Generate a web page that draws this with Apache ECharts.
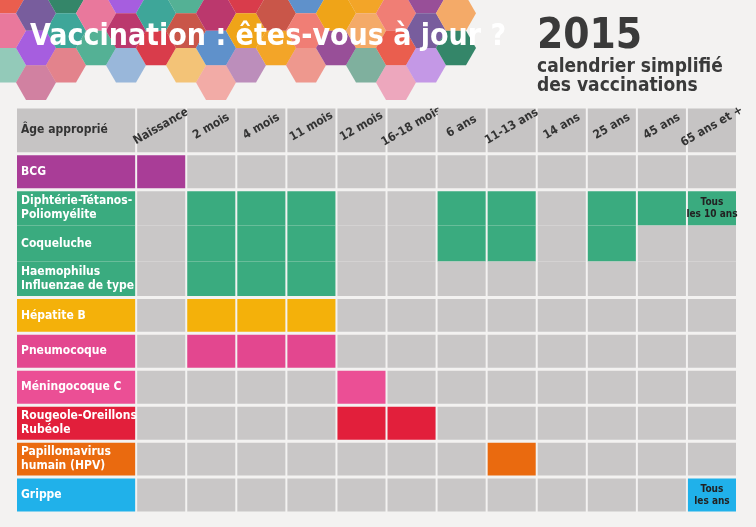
<!DOCTYPE html>
<html>
<head>
<meta charset="utf-8">
<script src="https://cdn.jsdelivr.net/npm/echarts@6/dist/echarts.min.js"></script>
<style>
  html, body { margin: 0; padding: 0; background: #f3f2f1; }
  #chart { width: 756px; height: 527px; }
</style>
</head>
<body>
<div id="chart"></div>
<script>
// colonnes d'âge
var ages = ['Naissance', '2 mois', '4 mois', '11 mois', '12 mois', '16-18 mois', '6 ans', '11-13 ans', '14 ans', '25 ans', '45 ans', '65 ans et +'];
// lignes vaccins
var vaccines = ['BCG', 'Diphtérie-Tétanos-\nPoliomyélite', 'Coqueluche', 'Haemophilus\nInfluenzae de type b (HIB)', 'Hépatite B', 'Pneumocoque', 'Méningocoque C', 'Rougeole-Oreillons-\nRubéole', 'Papillomavirus\nhumain (HPV)', 'Grippe'];
var vaccineColors = ['#a93d97', '#3aab7f', '#3aab7f', '#3aab7f', '#f4b10a', '#e3478f', '#eb4f95', '#e21f3b', '#ea6a0f', '#20b1ea'];
// groupe visuel (lignes sans séparation)
var groups = [0, 1, 1, 1, 2, 3, 4, 5, 6, 7];
// indices des colonnes où le vaccin est recommandé
var schedule = [
  [0],
  [1, 2, 3, 6, 7, 9, 10, 11],
  [1, 2, 3, 6, 7, 9],
  [1, 2, 3],
  [1, 2, 3],
  [1, 2, 3],
  [4],
  [4, 5],
  [7],
  [11]
];
var notes = { '1-11': 'Tous\nles 10 ans', '9-11': 'Tous\nles ans' };

var HEADER_H = 1.3;
var LABEL_W = 2.4;
var GREY = '#c9c7c7';
var FONT = '"Liberation Sans Narrow", "DejaVu Sans Condensed", sans-serif';

// construit les cellules
var cells = [];
cells.push({ col: -1, row: -1, fill: '#c6c4c4', text: 'Âge appropri\u00e9', dark: true });
ages.forEach(function (a, c) {
  cells.push({ col: c, row: -1, fill: '#c6c4c4', text: a, header: true });
});
vaccines.forEach(function (v, r) {
  cells.push({ col: -1, row: r, fill: vaccineColors[r], text: v });
  ages.forEach(function (a, c) {
    var on = schedule[r].indexOf(c) >= 0;
    cells.push({ col: c, row: r, fill: on ? vaccineColors[r] : GREY, text: notes[r + '-' + c] || '', note: true });
  });
});

function renderItem(params, api) {
  var d = cells[params.dataIndex];
  var x0 = d.col < 0 ? -LABEL_W : d.col;
  var x1 = d.col < 0 ? 0 : d.col + 1;
  var y0 = d.row < 0 ? 0 : HEADER_H + d.row;
  var y1 = d.row < 0 ? HEADER_H : y0 + 1;
  var p0 = api.coord([x0, y0]);
  var p1 = api.coord([x1, y1]);
  var topGap = (d.row <= 0 || groups[d.row - 1] !== groups[d.row]) ? 1.5 : 0;
  var botGap = (d.row < 0 || d.row === vaccines.length - 1 || groups[d.row + 1] !== groups[d.row]) ? 1.5 : 0;
  var rx = p0[0] + 1, ry = p0[1] + topGap;
  var rw = p1[0] - p0[0] - 2, rh = p1[1] - p0[1] - topGap - botGap;
  var children = [{
    type: 'rect',
    shape: { x: rx, y: ry, width: rw, height: rh },
    style: { fill: d.fill }
  }];
  if (d.text) {
    if (d.header) {
      children.push({
        type: 'text', x: rx + rw / 2, y: ry + 18, rotation: Math.PI / 6,
        style: { text: d.text, fill: '#333', font: 'bold 12px ' + FONT, align: 'center', verticalAlign: 'middle' }
      });
    } else if (d.col < 0) {
      children.push({
        type: 'text', x: rx + 4, y: ry + rh / 2,
        style: { text: d.text, fill: d.dark ? '#333' : '#fff', font: 'bold 12px ' + FONT, lineHeight: 14, align: 'left', verticalAlign: 'middle' }
      });
    } else {
      children.push({
        type: 'text', x: rx + rw / 2, y: ry + rh / 2,
        style: { text: d.text, fill: '#222', font: 'bold 10px ' + FONT, lineHeight: 12, align: 'center', verticalAlign: 'middle' }
      });
    }
  }
  return { type: 'group', children: children };
}

// décor hexagonal du bandeau
var hexPalette = ['#e94e3c', '#b5245e', '#8e3d8e', '#2a9d8f', '#f39c12', '#e86a92', '#4f86c6', '#6a4c93', '#d62839', '#f4a259', '#43aa8b', '#f07167', '#9d4edd', '#ee9b00', '#1f7a5a', '#c44536'];
var hexes = [];
var R = 20;
for (var i = 0; i < 16; i++) {
  for (var j = 0; j < 4; j++) {
    var cx = i * R * 1.5 + 6;
    var cy = j * R * 1.732 + (i % 2 ? R * 0.866 : 0) - 4;
    if (cy > 70 + ((i * 5) % 3) * 10) continue;
    var pts = [];
    for (var k = 0; k < 6; k++) {
      var ang = Math.PI / 3 * k;
      pts.push([cx + R * Math.cos(ang), cy + R * Math.sin(ang)]);
    }
    hexes.push({
      type: 'polygon', shape: { points: pts },
      style: { fill: hexPalette[(i * 7 + j * 5) % hexPalette.length], opacity: cy > 55 ? 0.55 : 0.9 }
    });
  }
}

var chart = echarts.init(document.getElementById('chart'));
chart.setOption({
  backgroundColor: '#f3f2f1',
  animation: false,
  grid: { left: 16, right: 19, top: 107, bottom: 14 },
  xAxis: { type: 'value', min: -LABEL_W, max: ages.length, show: false },
  yAxis: { type: 'value', inverse: true, min: 0, max: HEADER_H + vaccines.length, show: false },
  graphic: hexes.concat([
    { type: 'text', left: 30, top: 22, style: { text: 'Vaccination : êtes-vous à jour ?', fill: '#fff', font: 'bold 30px ' + FONT } },
    { type: 'text', left: 537, top: 16, style: { text: '2015', fill: '#3a3a3a', font: 'bold 42px ' + FONT } },
    { type: 'text', left: 537, top: 58, style: { text: 'calendrier simplifié\ndes vaccinations', fill: '#3a3a3a', font: 'bold 19px ' + FONT, lineHeight: 19 } }
  ]),
  series: [{
    type: 'custom',
    renderItem: renderItem,
    data: cells.map(function (d) { return [d.col, d.row]; })
  }]
});
</script>
</body>
</html>
